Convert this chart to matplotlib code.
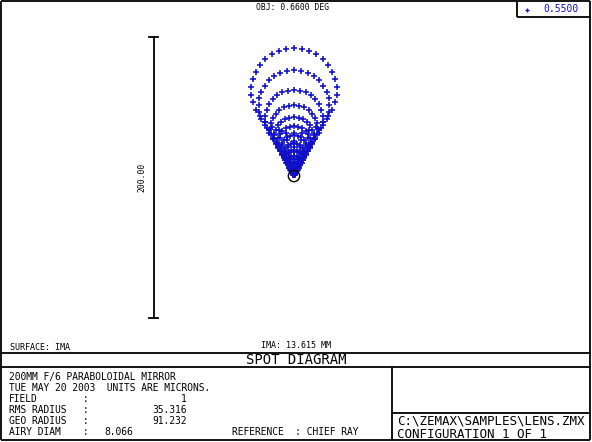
import numpy as np
import matplotlib
matplotlib.use('Agg')
import matplotlib.pyplot as plt
from matplotlib.patches import Circle

# spot rings (coma pattern), in microns
# top of each image ring measured above the chief ray
ring_top = [91.2, 75.4, 61.2, 50.5, 42.0, 35.5, 29.0, 23.5, 18.5, 14.0, 10.0, 6.5, 3.5, 1.2]
ring_pts = [34, 32, 30, 28, 26, 24, 22, 20, 18, 16, 14, 12, 10, 8]

airy_diam = 8.066
scale_um = 200.00

title = "SPOT DIAGRAM"
field_txt = "OBJ: 0.6600 DEG"
surf_txt = "SURFACE: IMA"
ima_txt = "IMA: 13.615 MM"
wavelength = "0.5500"
info_lines = ["200MM F/6 PARABOLOIDAL MIRROR",
              "TUE MAY 20 2003  UNITS ARE MICRONS."]
info_labels = ["FIELD", "RMS RADIUS", "GEO RADIUS", "AIRY DIAM"]
info_values = ["1", "35.316", "91.232", "8.066"]
file_txt = "C:\\ZEMAX\\SAMPLES\\LENS.ZMX"
config_txt = "CONFIGURATION 1 OF 1"

blue = '#1010c8'
mono = 'DejaVu Sans Mono'

fig = plt.figure(figsize=(5.92, 4.42), dpi=100)

# overlay axes in pixel units for frame + text
ov = fig.add_axes([0, 0, 1, 1])
ov.set_xlim(0, 592)
ov.set_ylim(442, 0)
ov.axis('off')

lw = 1.3
def seg(x0, y0, x1, y1):
    ov.plot([x0, x1], [y0, y1], color='black', lw=lw, solid_capstyle='butt')

seg(1, 1, 590, 1)
seg(1, 1, 1, 440)
seg(590, 1, 590, 440)
seg(1, 440, 590, 440)
seg(1, 353, 590, 353)
seg(1, 367, 590, 367)
seg(392, 367, 392, 440)
seg(392, 413, 590, 413)
# wavelength box
seg(517, 1, 517, 17)
seg(517, 17, 590, 17)

ov.text(293, 8, field_txt, fontsize=5.8, family=mono, ha='center', va='center')
ov.plot([527], [9.5], marker='+', ms=3.5, mew=1.0, color=blue)
ov.text(561, 9.5, wavelength, fontsize=7, family=mono, ha='center', va='center', color=blue)

ov.text(10, 348, surf_txt, fontsize=6, family=mono, ha='left', va='center')
ov.text(296, 346, ima_txt, fontsize=6, family=mono, ha='center', va='center')
ov.text(296, 360, title, fontsize=10, family=mono, ha='center', va='center')

fs = 6.9
for y, t in zip([377, 388], info_lines):
    ov.text(9, y, t, fontsize=fs, family=mono, ha='left', va='center')
for i, (y, lab, val) in enumerate(zip([399, 410, 421, 432], info_labels, info_values)):
    ov.text(9, y, lab, fontsize=fs, family=mono, ha='left', va='center')
    ov.text(86, y, ":", fontsize=fs, family=mono, ha='center', va='center')
    if i < 3:
        ov.text(187, y, val, fontsize=fs, family=mono, ha='right', va='center')
    else:
        ov.text(104, y, val, fontsize=fs, family=mono, ha='left', va='center')
ov.text(232, 432, "REFERENCE  : CHIEF RAY", fontsize=fs, family=mono, ha='left', va='center')

ov.text(397, 421, file_txt, fontsize=9.0, family=mono, ha='left', va='center')
ov.text(397, 434, config_txt, fontsize=9.0, family=mono, ha='left', va='center')

# spot axes in microns: 1.405 px per micron, chief ray at pixel (294, 176)
px = 1.405
left, right, top, bottom = 94, 494, 20, 340
ax = fig.add_axes([left / 592, (442 - bottom) / 442, (right - left) / 592, (bottom - top) / 442])
ax.set_xlim((left - 294) / px, (right - 294) / px)
ax.set_ylim((176 - bottom) / px, (176 - top) / px)
ax.axis('off')

for t, n in zip(ring_top, ring_pts):
    r = t / 3.0
    phi = np.linspace(0, 2 * np.pi, n, endpoint=False)
    ax.plot(r * np.sin(phi), 2 * r + r * np.cos(phi), ls='none', marker='+',
            ms=3.8, mew=1.15, color=blue)

ax.add_patch(Circle((0, 0), airy_diam / 2, fill=False, ec='black', lw=1.0, zorder=5))

# scale bar
half = scale_um / 2
ax.plot([-100, -100], [-half - 1, half - 1], color='black', lw=lw)
ax.plot([-103, -97], [half - 1, half - 1], color='black', lw=lw)
ax.plot([-103, -97], [-half - 1, -half - 1], color='black', lw=lw)
ax.text(-108, -1, "%.2f" % scale_um, rotation=90, fontsize=5.8, family=mono,
        ha='center', va='center')

fig.savefig('out.png', dpi=100)
